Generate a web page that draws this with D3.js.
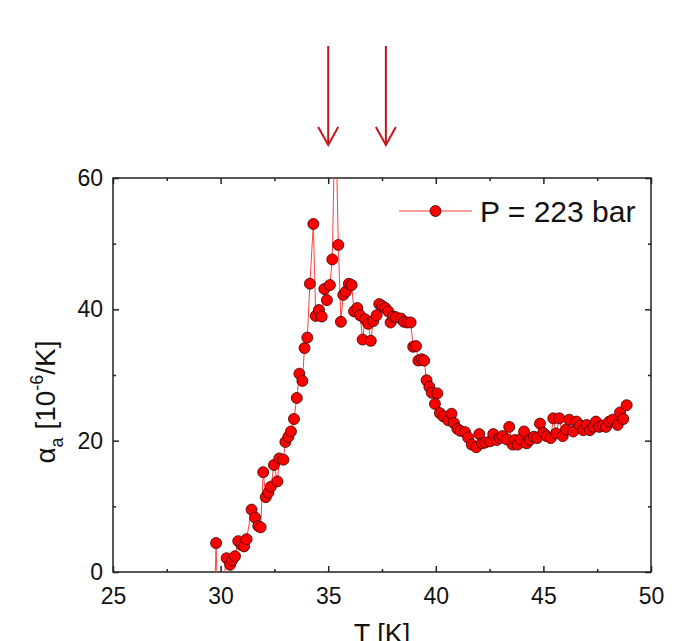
<!DOCTYPE html>
<html>
<head>
<meta charset="utf-8">
<script src="https://cdn.jsdelivr.net/npm/d3@7"></script>
<style>
  body { margin: 0; background: #fff; }
  svg text { font-family: "Liberation Sans", Arial, sans-serif; fill: #111; }
</style>
</head>
<body>
<div id="chart"></div>
<script>
const temperature = [29.70, 29.79, 29.88, 30.28, 30.44, 30.54, 30.67, 30.82, 30.97, 31.09, 31.21, 31.44, 31.60, 31.75, 31.86, 31.98, 32.10, 32.22, 32.34, 32.48, 32.64, 32.73, 32.92, 33.01, 33.15, 33.27, 33.41, 33.54, 33.66, 33.80, 33.90, 34.03, 34.15, 34.31, 34.42, 34.57, 34.70, 34.82, 34.94, 35.08, 35.19, 35.33, 35.47, 35.59, 35.70, 35.82, 35.96, 36.09, 36.20, 36.35, 36.48, 36.60, 36.71, 36.86, 36.98, 37.09, 37.25, 37.37, 37.51, 37.65, 37.79, 37.90, 38.02, 38.15, 38.38, 38.52, 38.67, 38.83, 38.95, 39.08, 39.19, 39.34, 39.46, 39.57, 39.70, 39.81, 39.96, 40.07, 40.19, 40.35, 40.58, 40.73, 40.84, 41.00, 41.14, 41.36, 41.50, 41.67, 41.88, 42.02, 42.14, 42.29, 42.52, 42.67, 42.83, 42.98, 43.10, 43.29, 43.41, 43.57, 43.68, 43.80, 43.94, 44.10, 44.22, 44.37, 44.56, 44.71, 44.84, 44.99, 45.15, 45.34, 45.46, 45.59, 45.74, 45.90, 46.05, 46.20, 46.39, 46.54, 46.70, 46.85, 47.01, 47.16, 47.32, 47.44, 47.60, 47.75, 47.91, 48.06, 48.22, 48.45, 48.56, 48.71, 48.87];
const alphaA = [-7, 4.4, -7, 2.1, 1.1, 1.8, 2.4, 4.7, 4.1, 3.9, 5.0, 9.5, 8.3, 7.0, 6.8, 15.2, 11.4, 12.1, 13.0, 16.3, 13.8, 17.3, 17.1, 19.8, 20.6, 21.4, 23.3, 26.5, 30.2, 29.1, 34.1, 35.7, 43.9, 53.0, 39.0, 39.9, 38.9, 43.1, 41.4, 43.7, 47.6, 72, 49.8, 38.1, 42.2, 42.7, 43.9, 43.7, 39.7, 40.2, 39.1, 35.4, 38.5, 37.8, 35.2, 38.2, 39.1, 40.8, 40.5, 40.2, 39.7, 38.0, 38.9, 38.8, 38.6, 38.1, 38.0, 38.0, 34.3, 34.4, 32.2, 32.4, 32.2, 29.2, 28.2, 27.3, 25.6, 27.2, 24.2, 23.7, 23.1, 24.1, 22.7, 21.8, 21.5, 21.3, 20.5, 19.4, 19.0, 21.0, 19.6, 19.7, 19.9, 21.0, 20.1, 20.4, 20.7, 20.2, 22.1, 19.4, 20.1, 19.4, 20.2, 21.4, 19.6, 20.1, 20.6, 20.4, 22.6, 21.2, 20.7, 20.4, 23.4, 21.1, 23.4, 20.7, 21.7, 23.2, 21.4, 22.9, 22.3, 21.6, 22.4, 21.6, 22.1, 22.9, 22.1, 22.3, 22.1, 22.9, 23.2, 22.4, 24.3, 23.3, 25.4];
const xTicks = [25, 30, 35, 40, 45, 50];
const xMinor = [27.5, 32.5, 37.5, 42.5, 47.5];
const yTicks = [0, 20, 40, 60];
const yMinor = [10, 30, 50];
const arrowT = [35.0, 37.68];
const legendLabel = "P = 223 bar";

const W = 674, H = 641;
const margin = {left: 113, right: 23, top: 178, bottom: 69};
const iw = W - margin.left - margin.right;
const ih = H - margin.top - margin.bottom;

const svg = d3.select("#chart").append("svg")
  .attr("width", W).attr("height", H);

const x = d3.scaleLinear().domain([25, 50]).range([0, iw]);
const y = d3.scaleLinear().domain([0, 60]).range([ih, 0]);

const g = svg.append("g").attr("transform", `translate(${margin.left},${margin.top})`);

g.append("clipPath").attr("id", "clip")
  .append("rect").attr("width", iw).attr("height", ih);

// ticks on all four sides, pointing inward
const tickSides = [
  {axis: d3.axisBottom(x).tickValues(xTicks).tickSize(-6), tr: `translate(0,${ih})`, pad: 16},
  {axis: d3.axisBottom(x).tickValues(xMinor).tickSize(-3), tr: `translate(0,${ih})`},
  {axis: d3.axisTop(x).tickValues(xTicks).tickSize(-6), tr: null},
  {axis: d3.axisTop(x).tickValues(xMinor).tickSize(-3), tr: null},
  {axis: d3.axisLeft(y).tickValues(yTicks).tickSize(-6), tr: null, pad: 10},
  {axis: d3.axisLeft(y).tickValues(yMinor).tickSize(-3), tr: null},
  {axis: d3.axisRight(y).tickValues(yTicks).tickSize(-6), tr: `translate(${iw},0)`},
  {axis: d3.axisRight(y).tickValues(yMinor).tickSize(-3), tr: `translate(${iw},0)`}
];
tickSides.forEach(s => {
  const a = g.append("g").call(s.axis.tickPadding(s.pad || 0));
  if (s.tr) a.attr("transform", s.tr);
  a.select(".domain").remove();
  a.selectAll("line").attr("stroke", "#222").attr("stroke-width", 1.5);
  if (s.pad) {
    a.selectAll("text").attr("font-size", 23).attr("fill", "#111");
  } else {
    a.selectAll("text").remove();
  }
});
svg.selectAll(".tick text").style("font-family", "'Liberation Sans', Arial, sans-serif");

g.append("rect").attr("width", iw).attr("height", ih)
  .attr("fill", "none").attr("stroke", "#222").attr("stroke-width", 1.5);

const pts = temperature.map((t, i) => ({t, v: alphaA[i]}));

const plot = g.append("g").attr("clip-path", "url(#clip)");
plot.append("path").datum(pts)
  .attr("fill", "none").attr("stroke", "#ff4040").attr("stroke-width", 1)
  .attr("d", d3.line().x(d => x(d.t)).y(d => y(d.v)));
plot.selectAll("circle").data(pts).join("circle")
  .attr("cx", d => x(d.t)).attr("cy", d => y(d.v)).attr("r", 5.5)
  .attr("fill", "#ff0000").attr("stroke", "#3a0000").attr("stroke-width", 0.8);

// legend
const leg = g.append("g").attr("transform", `translate(${399 - margin.left},${211 - margin.top})`);
leg.append("line").attr("x1", 0).attr("x2", 73)
  .attr("stroke", "#ff4040").attr("stroke-width", 1.2);
leg.append("circle").attr("cx", 36.5).attr("r", 5.5)
  .attr("fill", "#ff0000").attr("stroke", "#3a0000").attr("stroke-width", 0.8);
leg.append("text").attr("x", 81).attr("y", 11)
  .attr("font-size", 30).text(legendLabel);

// arrows above the plot
const arrows = svg.append("g").attr("stroke", "#c8141e").attr("stroke-width", 2).attr("fill", "none");
arrowT.forEach(t => {
  const ax = margin.left + x(t);
  arrows.append("line").attr("x1", ax).attr("x2", ax).attr("y1", 46).attr("y2", 145);
  arrows.append("path").attr("d", `M${ax - 10},${127} L${ax},${145} L${ax + 10},${127}`);
});

// axis titles
svg.append("text")
  .attr("transform", `translate(55,402) rotate(-90)`)
  .attr("text-anchor", "middle").attr("font-size", 28)
  .html('α<tspan font-size="18" dy="8">a</tspan><tspan dy="-8"> [10</tspan><tspan font-size="18" dy="-12">-6</tspan><tspan dy="12">/K]</tspan>');

svg.append("text")
  .attr("x", margin.left + x(37.5)).attr("y", 643)
  .attr("text-anchor", "middle").attr("font-size", 27)
  .text("T [K]");
</script>
</body>
</html>
